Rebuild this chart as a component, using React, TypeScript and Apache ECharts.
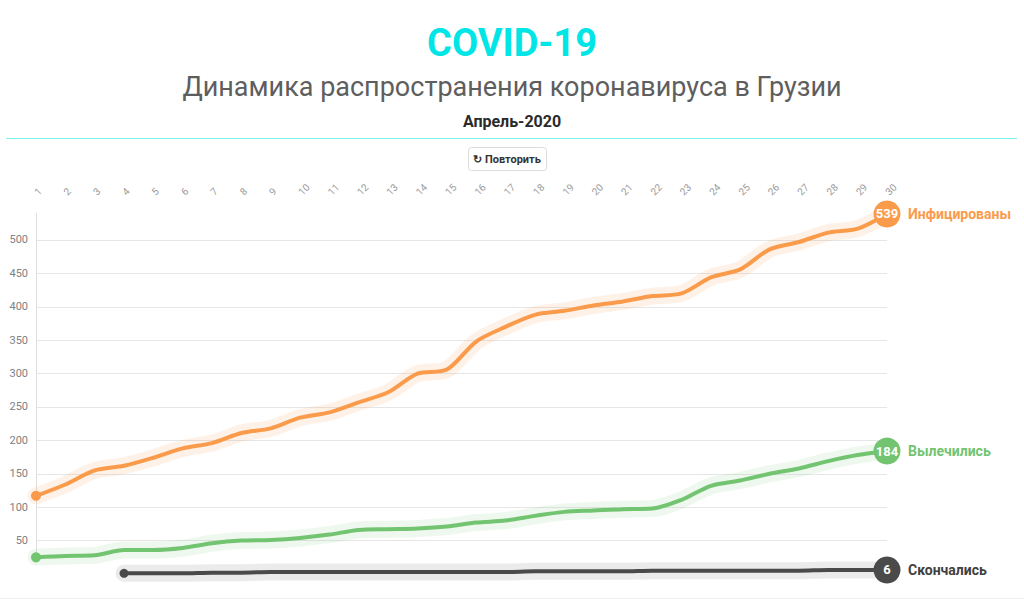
import React, { useEffect, useRef } from "react";
import * as echarts from "echarts";

const days = ["1","2","3","4","5","6","7","8","9","10","11","12","13","14","15","16","17","18","19","20","21","22","23","24","25","26","27","28","29","30"];
const infected = [117,134,155,162,174,188,196,211,218,234,242,257,272,300,306,348,370,388,394,402,408,416,420,444,456,486,497,511,517,539];
const recovered = [25,27,28,36,36,39,46,50,51,54,59,66,67,68,71,77,80,87,93,95,97,98,111,132,140,150,158,169,178,184];
const deaths: (number | null)[] = [null,null,null,1,1,1,2,2,3,3,3,3,3,3,3,3,3,4,4,4,4,5,5,5,5,5,5,6,6,6];
const seriesNames = ["Инфицированы", "Вылечились", "Скончались"];
const titleText = "COVID-19";
const subtitleText = "Динамика распространения коронавируса в Грузии";
const periodText = "Апрель-2020";
const buttonText = "↻ Повторить";

const FONT = "Roboto, 'Open Sans', sans-serif";

const STYLES = [
  { color: "#fa9b4c", halo: "rgba(250,155,76,0.13)", label: "#fa9b4c", start: 10 },
  { color: "#72c470", halo: "rgba(114,196,112,0.12)", label: "#72c470", start: 10 },
  { color: "#4a4a4a", halo: "rgba(0,0,0,0.08)", label: "#404040", start: 9 },
];

function buildItems(values: (number | null)[], startSize: number) {
  let first = -1;
  let last = -1;
  values.forEach((v, i) => {
    if (v !== null) {
      if (first < 0) first = i;
      last = i;
    }
  });
  return values.map((v, i) => {
    if (i === first) return { value: v, symbolSize: startSize };
    if (i === last)
      return {
        value: v,
        symbolSize: 27,
        label: {
          show: true,
          position: "inside",
          formatter: "{c}",
          color: "#fff",
          fontWeight: "bold",
          fontSize: 13,
          fontFamily: FONT,
        },
      };
    return { value: v };
  });
}

export default function App() {
  const ref = useRef<HTMLDivElement>(null);
  useEffect(() => {
    if (!ref.current) return;
    const chart = echarts.init(ref.current, null, { renderer: "svg" });
    const allData = [infected, recovered, deaths];
    const series: any[] = [];
    allData.forEach((values, k) => {
      series.push({
        type: "line",
        name: seriesNames[k] + " halo",
        data: values,
        smooth: 0.3,
        symbol: "none",
        silent: true,
        z: 2,
        lineStyle: { width: 17, color: STYLES[k].halo, cap: "round", join: "round" },
      });
    });
    allData.forEach((values, k) => {
      series.push({
        type: "line",
        name: seriesNames[k],
        data: buildItems(values, STYLES[k].start),
        smooth: 0.3,
        symbol: "circle",
        symbolSize: 0,
        showSymbol: true,
        showAllSymbol: true,
        z: 3,
        itemStyle: { color: STYLES[k].color },
        lineStyle: { width: 4, color: STYLES[k].color, cap: "round", join: "round" },
        endLabel: {
          show: true,
          formatter: seriesNames[k],
          color: STYLES[k].label,
          fontWeight: "bold",
          fontSize: 14,
          fontFamily: FONT,
          distance: 21,
        },
      });
    });

    const gridLineColors = ["rgba(0,0,0,0)"];
    for (let i = 0; i < 10; i++) gridLineColors.push("#e6e6e6");
    gridLineColors.push("rgba(0,0,0,0)");

    chart.setOption({
      animation: false,
      backgroundColor: "#ffffff",
      grid: { left: 36, right: 137, top: 212.6, bottom: 38 },
      xAxis: {
        type: "category",
        position: "top",
        data: days,
        boundaryGap: false,
        axisLine: { show: false },
        axisTick: { show: false },
        axisLabel: {
          rotate: 45,
          interval: 0,
          hideOverlap: false,
          color: "#999",
          fontSize: 10,
          margin: 19,
          fontFamily: FONT,
        },
      },
      yAxis: {
        type: "value",
        min: 0,
        max: 541,
        interval: 50,
        axisLine: { show: false },
        axisTick: { show: false },
        axisLabel: {
          showMinLabel: false,
          showMaxLabel: false,
          color: "#808080",
          fontSize: 11,
          margin: 8,
          fontFamily: FONT,
        },
        splitLine: { show: true, lineStyle: { color: gridLineColors, width: 1 } },
      },
      series,
    });

    const top = chart.convertToPixel({ yAxisIndex: 0 }, 541) as number;
    const bottom = chart.convertToPixel({ yAxisIndex: 0 }, 16) as number;
    const x0 = chart.convertToPixel({ xAxisIndex: 0 }, days[0]) as number;

    chart.setOption({
      graphic: [
        {
          type: "text",
          x: 512,
          y: 43,
          style: {
            text: titleText,
            fill: "#00e6e6",
            font: `bold 38px ${FONT}`,
            align: "center",
            verticalAlign: "middle",
          },
        },
        {
          type: "text",
          x: 512,
          y: 87,
          style: {
            text: subtitleText,
            fill: "#5e5e5e",
            font: `27px ${FONT}`,
            align: "center",
            verticalAlign: "middle",
          },
        },
        {
          type: "text",
          x: 512,
          y: 121,
          style: {
            text: periodText,
            fill: "#2a2a2a",
            font: `bold 16px ${FONT}`,
            align: "center",
            verticalAlign: "middle",
          },
        },
        {
          type: "line",
          shape: { x1: 6, y1: 138.5, x2: 1017, y2: 138.5 },
          style: { stroke: "#7ff3f3", lineWidth: 1 },
        },
        {
          type: "rect",
          shape: { x: 468.5, y: 147.5, width: 78, height: 23, r: 3 },
          style: { fill: "#fff", stroke: "#dcdcdc", lineWidth: 1 },
        },
        {
          type: "text",
          x: 507,
          y: 159,
          style: {
            text: buttonText,
            fill: "#333",
            font: `bold 11px ${FONT}`,
            align: "center",
            verticalAlign: "middle",
          },
        },
        {
          type: "line",
          z: 1,
          shape: { x1: x0 + 0.5, y1: top, x2: x0 + 0.5, y2: bottom },
          style: { stroke: "#e0e0e0", lineWidth: 1 },
        },
        {
          type: "line",
          shape: { x1: 0, y1: 598.5, x2: 1024, y2: 598.5 },
          style: { stroke: "#f0f0f0", lineWidth: 1 },
        },
      ],
    });
    return () => chart.dispose();
  }, []);
  return (
    <div
      ref={ref}
      style={{ position: "fixed", left: 0, top: 0, width: 1024, height: 612, background: "#fff" }}
    />
  );
}
